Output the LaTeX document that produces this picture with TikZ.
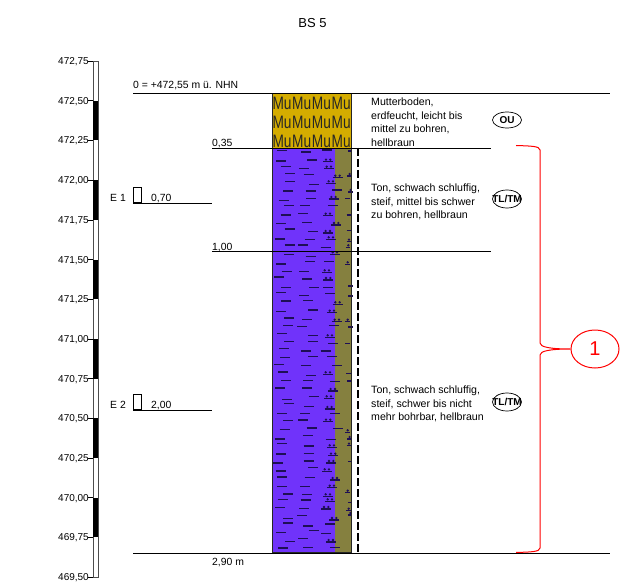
\documentclass[tikz,border=0pt]{standalone}
\usepackage{fontspec}
\setmainfont{Liberation Sans}
\usetikzlibrary{calc, positioning, shapes.geometric}
\definecolor{mugold}{HTML}{D4AC00}
\definecolor{tonviolet}{HTML}{7033FA}
\definecolor{siltolive}{HTML}{85803F}
\definecolor{dashink}{HTML}{1E0F55}

\tikzset{
  lbl/.style={font=\fontsize{10.4}{13.5}\selectfont, inner sep=0pt, align=left},
  scalelbl/.style={font=\fontsize{10}{10}\selectfont, inner sep=0pt, anchor=base east},
  layerline/.style={line width=0.7pt},
  soilclass/.style={draw, ellipse, line width=0.7pt, minimum width=29pt, minimum height=18pt, inner sep=0pt},
  soiltext/.style={font=\fontsize{10}{10}\bfseries\selectfont, inner sep=0pt},
  tondash/.style={line width=1.05pt, dashink},
  probe/.style={draw, line width=0.6pt, minimum width=8pt, minimum height=15pt, inner sep=0pt, anchor=south},
  patch/.style={x=0.3333pt, y=-0.3333pt},
  siltmark/.pic={
    \draw[tondash] (0,0) -- (30,0);
    \fill[dashink] (8,-6) circle (1.3pt) (21,-6) circle (1.3pt);
  },
  edgemark/.pic={
    \draw[tondash] (0,0) -- (13,0);
  },
  edgedot/.pic={
    \draw[tondash] (0,0) -- (13,0);
    \fill[dashink] (7,-6) circle (1.3pt);
  }
}

\begin{document}
\begin{tikzpicture}[x=1pt, y=-1pt]
\useasboundingbox (0,0) rectangle (620,585);

\node[font=\fontsize{13}{13}\selectfont, inner sep=0pt] (title) at (312.5,23) {BS 5};

% height scale
\foreach \lab [count=\i from 0] in {472{,}75,472{,}50,472{,}25,472{,}00,471{,}75,471{,}50,471{,}25,
    471{,}00,470{,}75,470{,}50,470{,}25,470{,}00,469{,}75,469{,}50} {
  \pgfmathsetmacro{\ypos}{61+\i*39.7}
  \draw[line width=0.6pt] (87.5,\ypos) -- (93,\ypos);
  \node[scalelbl] (tick\i) at (89,\ypos+3.5) {\lab};
}
\draw[line width=0.8pt, draw=black!70] (93,61) rectangle (98,577);
\foreach \i in {1,3,5,7,9,11} {
  \pgfmathsetmacro{\ya}{61+\i*39.7}
  \pgfmathsetmacro{\yb}{61+(\i+1)*39.7}
  \fill (92.6,\ya) rectangle (98.4,\yb);
}

% layers
\fill[mugold] (272,93) rectangle (351,148);
\fill[tonviolet] (272,148) rectangle (335,552);
\fill[siltolive] (335,148) rectangle (351,552);

% Mu pattern
\begin{scope}
\clip (272,93) rectangle (351,148);
\foreach \yy in {103.5,122.5,141.5} {
  \foreach \xx in {282,301.7,321.4,341.1} {
    \node[font=\fontsize{18}{18}\selectfont, inner sep=0pt, text=black!85, xscale=0.76, transform shape] at (\xx,\yy) {Mu};
  }
}
\end{scope}

% clay and silt, upper part
\begin{scope}[shift={(268,145)}, patch]
\foreach \zx/\zy in {27/17,100/21,162/15,25/48,117/45,38/64,93/71,52/86,107/89,52/109,123/119,45/138,113/138,193/135,115/161,32/167,48/182,97/181,180/181,38/210,90/206,24/236,102/233,50/252,120/259,20/282,110/284,50/300,90/300,158/307,48/328,113/335,24/357,111/350,168/350,41/379,93/379,18/396,102/402}
  \draw[tondash] (\zx,\zy) -- ++(30,0);
\foreach \zx/\zy in {166/50,168/71,194/98,174/115,182/162,165/212,190/240,165/264,174/283,186/328,162/382,166/405}
  \pic at (\zx,\zy) {siltmark};
\foreach \zx/\zy in {232/160,236/210,236/257,240/18}
  \pic at (\zx,\zy) {edgemark};
\foreach \zx/\zy in {238/93,241/141,236/290,234/307,232/358}
  \pic at (\zx,\zy) {edgedot};
\end{scope}

% middle part
\begin{scope}[shift={(268,285)}, patch]
\foreach \zx/\zy in {40/7,123/8,166/8,24/23,172/26,93/31,40/48,105/47,120/75,25/80,48/99,102/104,45/122,87/125,182/122,28/146,120/152,48/170,120/169,180/176,33/191,100/198,158/198,36/217,120/215,177/215,18/239,100/241,192/241,30/261,114/272,40/287,105/287,186/290,22/309,102/309,122/334,42/343,48/356,108/365,27/385,97/385,186/385,45/407,90/405}
  \draw[tondash] (\zx,\zy) -- ++(30,0);
\foreach \zx/\zy in {194/58,177/83,192/110,171/157,165/268,180/318,168/340,170/372,166/410}
  \pic at (\zx,\zy) {siltmark};
\foreach \zx/\zy in {232/110}
  \pic at (\zx,\zy) {edgedot};
\foreach \zx/\zy in {232/176,235/265,238/288,241/33,241/126,241/3}
  \pic at (\zx,\zy) {edgemark};
\end{scope}

% lower part
\begin{scope}[shift={(268,420)}, patch]
\foreach \zx/\zy in {35/28,116/24,104/47,173/58,20/57,28/71,107/78,25/102,107/101,107/123,15/129,120/143,23/153,28/171,110/173,27/199,97/200,45/222,102/224,30/238,98/240,21/262,93/265,87/287,45/296,45/309,105/318,122/332,172/312,160/340,25/338,91/356,51/364,30/384,106/382,186/382,194/26}
  \draw[tondash] (\zx,\zy) -- ++(30,0);
\foreach \zx/\zy in {177/82,181/107,175/129,162/154,186/180,177/203,165/229,171/244,160/267,184/300,174/366}
  \pic at (\zx,\zy) {siltmark};
\foreach \zx/\zy in {232/37,238/57,236/77,232/218,235/272,240/285}
  \pic at (\zx,\zy) {edgedot};
\foreach \zx/\zy in {240/125,240/248}
  \pic at (\zx,\zy) {edgemark};
\end{scope}

\draw[line width=0.9pt, draw=black!85] (272,93) rectangle (351,552);
\draw[line width=0.9pt, black!70] (272,148) -- (351,148);
\draw[line width=0.7pt, black!70] (272,251) -- (351,251);
\draw[line width=1.9pt, dash pattern=on 8pt off 3pt] (358,148) -- (358,553);

% level lines
\draw[layerline] (133,93) -- (610,93);
\draw[layerline] (212,148) -- (491,148);
\draw[layerline] (133,203.5) -- (212,203.5);
\draw[layerline] (212,251) -- (491,251);
\draw[layerline] (133,410) -- (212,410);
\draw[layerline] (133,553) -- (610,553);

% level labels
\node[lbl, anchor=base west] (top) at (133,89) {0 = +472,55 m ü. NHN};
\node[lbl, anchor=base west] (d035) at (212,147) {0,35};
\node[lbl, anchor=base west] (d070) at (151,202) {0,70};
\node[lbl, anchor=base west] (d100) at (212,250) {1,00};
\node[lbl, anchor=base west] (d200) at (151,408) {2,00};
\node[lbl, anchor=base west] (d290) at (212,565) {2,90 m};

% samples
\node[lbl, anchor=base west] (e1) at (110,202) {E 1};
\node[probe] (p1) at (137.5,203) {};
\node[lbl, anchor=base west] (e2) at (110,408) {E 2};
\node[probe] (p2) at (137.5,409.5) {};

% descriptions
\node[lbl, anchor=north west, font=\fontsize{10.6}{13.4}\selectfont] (desc1) at (371,98) {Mutterboden,\\erdfeucht, leicht bis\\mittel zu bohren,\\hellbraun};
\node[lbl, anchor=north west, font=\fontsize{10.6}{13.4}\selectfont] (desc2) at (371,184) {Ton, schwach schluffig,\\steif, mittel bis schwer\\zu bohren, hellbraun};
\node[lbl, anchor=north west, font=\fontsize{10.6}{13.4}\selectfont] (desc3) at (371,386) {Ton, schwach schluffig,\\steif, schwer bis nicht\\mehr bohrbar, hellbraun};

\node[soilclass, minimum height=16pt] (ou) at (507,120) {};
\node[soiltext] (outxt) at (ou) {OU};
\node[soilclass] (tl1) at (507,199) {};
\node[soiltext] (tl1txt) at (tl1) {TL/TM};
\node[soilclass] (tl2) at (507,402) {};
\node[soiltext] (tl2txt) at (tl2) {TL/TM};

% homogeneous range
\node[draw=red, text=red, ellipse, line width=1pt, minimum width=48pt, minimum height=38pt,
  inner sep=0pt, font=\fontsize{20}{20}\selectfont] (range) at (595,349) {1};
\draw[red, line width=1pt] (516,145.5) .. controls (530,146) and (540,146) .. (540,150)
  -- (540,343) .. controls (540,347) and (550,349) .. (range.west)
  .. controls (550,349) and (540,351) .. (540,355)
  -- (540,548) .. controls (540,552) and (530,552) .. (516,552.5);

\end{tikzpicture}
\end{document}
